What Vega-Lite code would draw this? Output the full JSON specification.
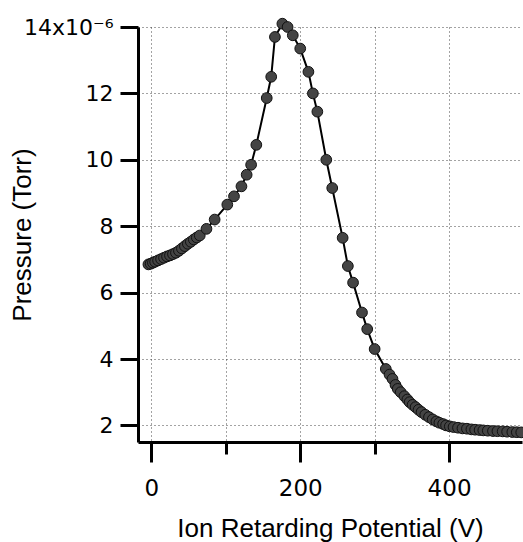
{
  "$schema": "https://vega.github.io/schema/vega-lite/v6.json",
  "width": 384,
  "height": 415,
  "autosize": {"type": "none"},
  "padding": {"left": 138, "top": 27, "right": 1, "bottom": 100},
  "background": "white",
  "config": {
    "view": {"stroke": null},
    "font": "Liberation Sans",
    "axis": {
      "domainColor": "#000",
      "domainWidth": 3,
      "tickColor": "#000",
      "tickWidth": 3,
      "labelColor": "#000",
      "labelFont": "DejaVu Sans",
      "titleColor": "#000",
      "titleFontWeight": "normal",
      "gridColor": "#333",
      "gridDash": [1, 3],
      "gridWidth": 1,
      "gridOpacity": 0.9
    }
  },
  "data": {
    "values": [
      {"v": -4, "p": 6.85}, {"v": -1, "p": 6.87}, {"v": 2, "p": 6.9}, {"v": 5, "p": 6.93},
      {"v": 9, "p": 6.97}, {"v": 13, "p": 7.01}, {"v": 17, "p": 7.05}, {"v": 21, "p": 7.09},
      {"v": 25, "p": 7.12}, {"v": 29, "p": 7.16}, {"v": 33, "p": 7.2}, {"v": 37, "p": 7.26},
      {"v": 41, "p": 7.33}, {"v": 45, "p": 7.4}, {"v": 49, "p": 7.47}, {"v": 53, "p": 7.53},
      {"v": 57, "p": 7.6}, {"v": 61, "p": 7.66}, {"v": 65, "p": 7.72}, {"v": 74, "p": 7.92},
      {"v": 85, "p": 8.2}, {"v": 102, "p": 8.65}, {"v": 111, "p": 8.9}, {"v": 121, "p": 9.2},
      {"v": 128, "p": 9.55}, {"v": 134, "p": 9.85}, {"v": 141, "p": 10.45}, {"v": 155, "p": 11.86},
      {"v": 161, "p": 12.5}, {"v": 166, "p": 13.7}, {"v": 176, "p": 14.1}, {"v": 183, "p": 14.0},
      {"v": 190, "p": 13.75}, {"v": 200, "p": 13.35}, {"v": 211, "p": 12.65}, {"v": 217, "p": 12.0},
      {"v": 223, "p": 11.45}, {"v": 235, "p": 10.0}, {"v": 243, "p": 9.15}, {"v": 257, "p": 7.65},
      {"v": 264, "p": 6.8}, {"v": 271, "p": 6.3}, {"v": 283, "p": 5.4}, {"v": 290, "p": 4.9},
      {"v": 300, "p": 4.3}, {"v": 315, "p": 3.7}, {"v": 320, "p": 3.53}, {"v": 324, "p": 3.4},
      {"v": 328, "p": 3.22}, {"v": 331, "p": 3.1}, {"v": 335, "p": 3.0}, {"v": 340, "p": 2.88},
      {"v": 344, "p": 2.78}, {"v": 347, "p": 2.7}, {"v": 351, "p": 2.62}, {"v": 355, "p": 2.55},
      {"v": 359, "p": 2.47}, {"v": 363, "p": 2.4}, {"v": 368, "p": 2.32}, {"v": 373, "p": 2.25},
      {"v": 378, "p": 2.18}, {"v": 383, "p": 2.12}, {"v": 387, "p": 2.08}, {"v": 392, "p": 2.04},
      {"v": 396, "p": 2.0}, {"v": 401, "p": 1.97}, {"v": 406, "p": 1.95}, {"v": 412, "p": 1.93},
      {"v": 418, "p": 1.91}, {"v": 424, "p": 1.9}, {"v": 430, "p": 1.88}, {"v": 435, "p": 1.87},
      {"v": 441, "p": 1.86}, {"v": 446, "p": 1.85}, {"v": 452, "p": 1.84}, {"v": 459, "p": 1.83},
      {"v": 465, "p": 1.825}, {"v": 472, "p": 1.82}, {"v": 478, "p": 1.81}, {"v": 485, "p": 1.8},
      {"v": 491, "p": 1.795}, {"v": 497, "p": 1.79}
    ]
  },
  "encoding": {
    "x": {
      "field": "v",
      "type": "quantitative",
      "scale": {"domain": [-18, 498], "nice": false, "zero": false},
      "axis": {
        "values": [0, 100, 200, 300, 400],
        "labelExpr": "datum.value % 200 === 0 ? datum.label : ''",
        "tickSize": {"condition": {"test": "datum.value % 200 === 0", "value": 20}, "value": 12},
        "labelPadding": 15,
        "labelFontSize": 23,
        "labelFlush": false,
        "grid": true,
        "title": "Ion Retarding Potential (V)",
        "titleFontSize": 26,
        "titleBaseline": "alphabetic",
        "titleY": 94
      }
    },
    "y": {
      "field": "p",
      "type": "quantitative",
      "scale": {"domain": [1.5, 14], "nice": false, "zero": false},
      "axis": {
        "values": [2, 4, 6, 8, 10, 12, 14],
        "labelExpr": "datum.value == 14 ? '14x10⁻⁶' : datum.label",
        "tickSize": 18,
        "labelPadding": 7,
        "labelFontSize": 22,
        "labelFlush": false,
        "grid": true,
        "title": "Pressure (Torr)",
        "titleFontSize": 26,
        "titleBaseline": "alphabetic",
        "titleX": -108
      }
    }
  },
  "layer": [
    {"mark": {"type": "line", "color": "#000", "strokeWidth": 2}},
    {"mark": {"type": "point", "filled": true, "fill": "#444", "stroke": "#111", "strokeWidth": 1, "size": 115, "opacity": 1}}
  ]
}
